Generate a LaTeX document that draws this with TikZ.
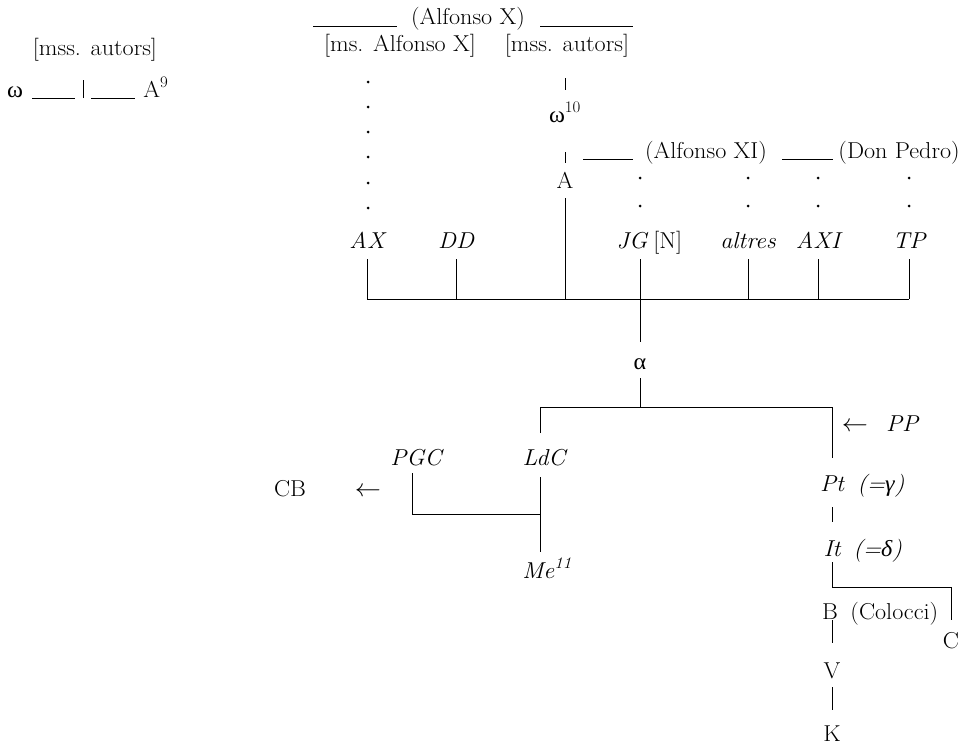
\documentclass[tikz,border=0pt]{standalone}
\usepackage{fontspec}
\usepackage{graphicx}
\newfontfamily\grk{Liberation Serif}
\newcommand{\strx}[1]{\scalebox{1.05}[1]{#1}}
\begin{document}
\begin{tikzpicture}[x=1pt,y=-1pt,line width=0.9pt,
  every node/.style={inner sep=0pt,anchor=base,font=\fontsize{23}{27}\selectfont},
  dotm/.style={fill=black}]
\useasboundingbox (0,0) rectangle (979,744);
% left group
\node (lmss) at (95,55) {\strx{[mss. autors]}};
\node (om) at (15,97) {\strx{\grk ω}};
\node[anchor=base west] (a9) at (143,97) {\strx{A\textsuperscript{9}}};
\coordinate (lbar) at (83,98);
\draw (32,98) -- (75,98);
\draw (lbar) -- ++(0,-18);
\draw (91,98) -- (135,98);
% top centre
\node (alx) at (468,24) {\strx{(Alfonso X)}};
\draw (313,26) -- (397,26);
\draw (540,26) -- (633,26);
\node (msax) at (400,51) {\strx{[ms. Alfonso X]}};
\node (mssa) at (567,51) {\strx{[mss. autors]}};
\foreach \y in {82,107,132,157,183,208} \fill[dotm] (368,\y) circle (1.5pt);
\node (om10) at (565,122) {\strx{{\grk ω}\textsuperscript{10}}};
\draw ([yshift=44pt]om10.base) -- ([yshift=32pt]om10.base);
\node (A) at (565,188) {\strx{A}};
\draw ([yshift=36pt]A.base) -- ([yshift=25pt]A.base);
% Alfonso XI row
\draw (583,159) -- (633,159);
\node (alxi) at (706,158) {\strx{(Alfonso XI)}};
\draw (782,159) -- (833,159);
\node[anchor=base west] (dp) at (838,158) {\strx{(Don Pedro)}};
\foreach \x in {640,748,818,909} {\fill[dotm] (\x,178) circle (1.5pt); \fill[dotm] (\x,206) circle (1.5pt);}
% labels
\node (axn) at (367,248) {\strx{\itshape AX}};
\node (dd) at (456,248) {\strx{\itshape DD}};
\node (jg) at (632,248) {\strx{\itshape JG}};
\node[anchor=base west] (nn) at (653,248) {\strx{[N]}};
\node (alt) at (748,248) {\strx{\itshape altres}};
\node (axi) at (818,248) {\strx{\itshape AXI}};
\node (tp) at (909,248) {\strx{\itshape TP}};
\coordinate (hl) at (0,299);
\coordinate (jx) at ([xshift=8pt]jg.base);
\foreach \n in {axn,dd,alt,axi,tp} \draw ([yshift=-11pt]\n.base) -- (\n.base |- hl);
\draw ([yshift=-11pt]jx) -- (jx |- hl);
\draw ([yshift=-10pt]A.base) -- (A.base |- hl);
\draw (axn.base |- hl) -- (tp.base |- hl);
% alpha
\node (al) at (640,369) {\strx{\grk α}};
\draw (jx |- hl) -- ([yshift=27pt]al.base);
\coordinate (h2) at (0,407);
\draw ([yshift=-9pt]al.base) -- (al.base |- h2);
% lower left
\node (ldc) at (544,465) {\strx{\itshape LdC}};
\coordinate (lx) at ([xshift=-4pt]ldc.base);
\node (pgc) at (416,465) {\strx{\itshape PGC}};
\coordinate (px) at ([xshift=-4pt]pgc.base);
\node (cb) at (290,496) {\strx{CB}};
\node (la) at (368,496) {\strx{$\leftarrow$}};
\node (me) at (547,578) {\strx{\itshape Me\textsuperscript{11}}};
\coordinate (h3) at (0,514);
% right column
\node (pl) at (855,431) {\strx{$\leftarrow$}};
\node (pp) at (902,431) {\strx{\itshape PP}};
\node (pt) at (832,491) {\strx{\itshape Pt}};
\node[anchor=base west] (ptg) at (857,491) {\strx{\itshape(={\grk γ})}};
\node (it) at (832,556) {\strx{\itshape It}};
\node[anchor=base west] (itd) at (853,556) {\strx{\itshape(={\grk δ})}};
\node (b) at (830,619) {\strx{B}};
\node[anchor=base west] (col) at (850,619) {\strx{(Colocci)}};
\node (c) at (951,648) {\strx{C}};
\node (v) at (832,678) {\strx{V}};
\node (k) at (832,741) {\strx{K}};
\coordinate (h4) at (0,587);
% connectors lower part
\draw ([yshift=32pt]lx) -- (lx |- h2) -- (pt.base |- h2) -- ([yshift=33pt]pt.base);
\draw ([yshift=-8pt]px) -- (px |- h3) -- (lx |- h3);
\draw ([yshift=-12pt]lx) -- ([yshift=-87pt]lx);
\draw ([yshift=-16pt]pt.base) -- ([yshift=-31pt]pt.base);
\draw ([yshift=-6pt]it.base) -- (it.base |- h4) -- (c.base |- h4) -- ([yshift=28pt]c.base);
\draw ([xshift=2pt,yshift=-1pt]b.base) -- ([yshift=35pt]v.base);
\draw ([yshift=-9pt]v.base) -- ([yshift=31pt]k.base);
\end{tikzpicture}
\end{document}
